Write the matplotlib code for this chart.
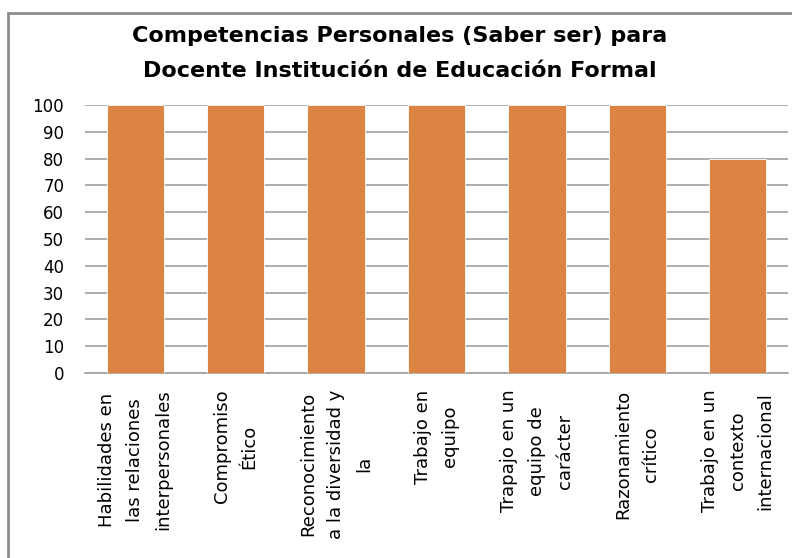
import matplotlib.pyplot as plt
from matplotlib.patches import Rectangle

# data
categories = [
    "Habilidades en\nlas relaciones\ninterpersonales",
    "Compromiso\nÉtico",
    "Reconocimiento\na la diversidad y\nla",
    "Trabajo en\nequipo",
    "Trapajo en un\nequipo de\ncarácter",
    "Razonamiento\ncrítico",
    "Trabajo en un\ncontexto\ninternacional",
]
values = [100, 100, 100, 100, 100, 100, 80]
yticks = list(range(0, 101, 10))

W, H = 792, 558
fig = plt.figure(figsize=(W / 100, H / 100), dpi=100)
plt.rcParams["font.family"] = ["DejaVu Sans"]

# outer chart frame (only top and left edges are visible)
fig.patches.append(Rectangle((8 / W, -0.1), 1.2, 1 - 13 / H + 0.1,
                             transform=fig.transFigure, fill=False,
                             edgecolor="#8c8c8c", linewidth=2))

ax = fig.add_axes([85 / W, 1 - 373 / H, 703 / W, 268 / H])
x = range(len(categories))
ax.bar(x, values, width=0.57, color="#DC8442", edgecolor="white",
       linewidth=0.6, zorder=3)

ax.set_ylim(0, 100)
ax.set_xlim(-0.5, len(categories) - 0.5)
ax.set_yticks(yticks)
ax.set_yticklabels([str(v) for v in yticks], fontsize=12)
ax.yaxis.grid(True, color="#a0a0a0", linewidth=1.2, zorder=0)
ax.tick_params(axis="y", length=0, pad=15)
ax.tick_params(axis="x", length=0, pad=12)
ax.set_xticks(list(x))
ax.set_xticklabels(categories, rotation=90, fontsize=13, ha="center",
                   va="top", multialignment="center", linespacing=1.7)
for s in ["top", "right", "left"]:
    ax.spines[s].set_visible(False)
ax.spines["bottom"].set_color("#a0a0a0")
ax.spines["bottom"].set_linewidth(1.2)

fig.text(400 / W, 1 - 36 / H, "Competencias Personales (Saber ser) para",
         ha="center", va="center", fontsize=16, fontweight="bold")
fig.text(400 / W, 1 - 71 / H, "Docente Institución de Educación Formal",
         ha="center", va="center", fontsize=16, fontweight="bold")

fig.savefig("out.png", dpi=100)
